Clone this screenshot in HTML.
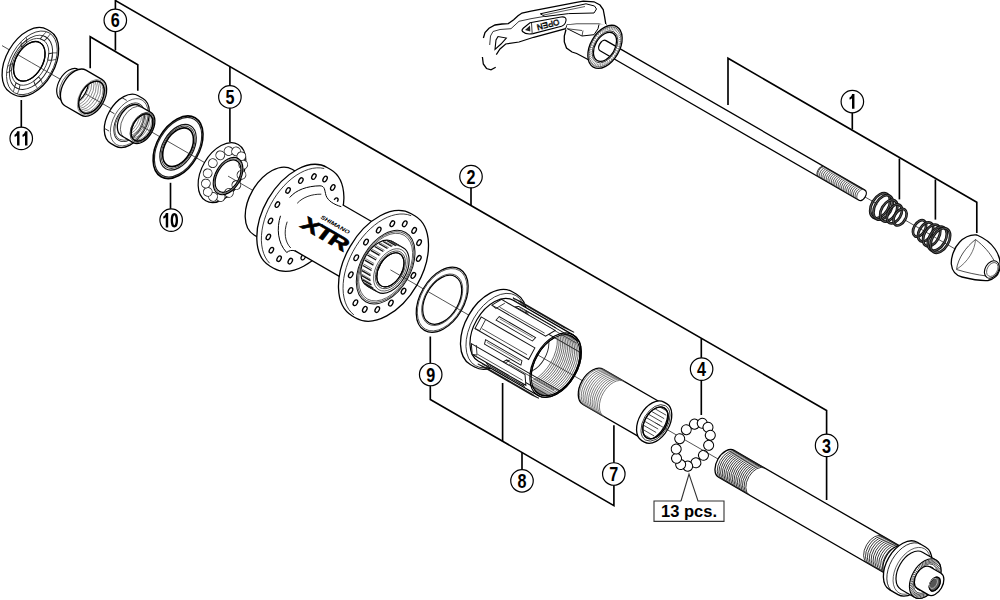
<!DOCTYPE html>
<html><head><meta charset="utf-8"><style>
html,body{margin:0;padding:0;background:#fff;width:1000px;height:600px;overflow:hidden;position:relative}
</style></head><body>
<svg width="1000" height="600" viewBox="0 0 1000 600" style="position:absolute;left:0;top:0"><rect width="1000" height="600" fill="#fff"/><g transform="translate(700,101.7) rotate(30)"><line x1="-100" y1="0" x2="205" y2="0" stroke="#222" stroke-width="0.7" /><line x1="235" y1="0" x2="300" y2="0" stroke="#222" stroke-width="0.7" /></g><path d="M495.7,67.3 L491,69.8 L486.5,68.5 L483.3,64 L482.4,57 L482.6,48 L483.4,38 L485,32.5 L489,28.2 L495,25 L502,24 L508.3,23.6 L513.7,19.8 L518,15.8 L522,13 L531,11.2 L575,2.6 L583.3,1.2 L594,1.8 L600,5 L603.2,9.5 L604.7,17.3 L606,25.3 L598.7,24.2 L576.7,24.2 L567.3,24.8 L565.7,28.7 L533.7,37.3 L519,42 L505.7,44 L500,49 L496.3,54.7Z" fill="#fff" stroke="none"/><path d="M495.7,67.3 L491,69.8 L486.5,68.5 L483.3,64 L482.4,57" fill="none" stroke="#000" stroke-width="1.3"/><path d="M483.4,38 L485,32.5 L489,28.2 L495,25 L502,24 L508.3,23.6 L513.7,19.8 L518,15.8 L522,13 L531,11.2 L575,2.6 L583.3,1.2 L594,1.8 L600,5 L603.2,9.5 L604.7,17.3 L606,25.3" fill="none" stroke="#000" stroke-width="1.3"/><path d="M606,25.3 L598.7,24.2 L576.7,24.2 L567.3,24.8 L565.7,28.7 L533.7,37.3 L519,42 L505.7,44 L500,49 L496.3,54.7" fill="none" stroke="#000" stroke-width="1.2"/><path d="M489.7,45 L490.5,36 L493,31.5 L500,29.5 L511,28.7 L519,21.3 L531,18.7 L565.7,12.7" fill="none" stroke="#222" stroke-width="0.9"/><path d="M495,49.3 L496,40 L498,36.5 L506.3,38 L501,44Z" fill="#fff" stroke="#000" stroke-width="1.1"/><path d="M540.3,13.8 L586,3.8 L594.5,6 L596.5,9 L594,13 L568.7,13.6 L545,16.5Z" fill="#fff" stroke="#000" stroke-width="1.0"/><line x1="543" y1="15.2" x2="585" y2="6.5" stroke="#333" stroke-width="0.8" /><path d="M522.5,31.5 C521.5,30.5 522,29.5 523.5,28 L530,22.8 L561,17 C565,16.4 566.5,18 566,20.5 C565.5,23.5 564,25.5 561.5,26.3 L533,33.6 C528,34.6 524,33 522.5,31.5Z" fill="#fff" stroke="#000" stroke-width="1.1"/><line x1="531.5" y1="23" x2="532.2" y2="33.6" stroke="#222" stroke-width="0.9" /><path d="M525,30 L530,25.5 L530.3,31.5Z" fill="#222"/><text font-family="Liberation Sans, sans-serif" font-size="8" fill="none" stroke="#000" stroke-width="0.6" transform="translate(558.5,19.3) rotate(166)">OPEN</text><path d="M566,30 L564.3,36 L564.3,42 L566.5,48 L572,52 L576.7,53.5 L591.3,61.3 L606,66 L606,24 L598.7,24.2 L576.7,24.2 L567.3,24.8Z" fill="#fff" stroke="none"/><path d="M566,29.5 L564.3,36 L564.3,42 L566.5,48 L572,52 L576.7,53.5 L591.3,61.3" fill="none" stroke="#000" stroke-width="1.3"/><path d="M567.3,28.7 L582,36 L594,34.7 L598,28.7 L599,24.5" fill="none" stroke="#000" stroke-width="1.0"/><line x1="582" y1="36" x2="583" y2="30.5" stroke="#222" stroke-width="0.8" /><line x1="567" y1="28.7" x2="582" y2="30.5" stroke="#222" stroke-width="0.8" /><g transform="translate(700,101.7) rotate(30)"><path d="M-112,-5.9L187,-5.9A3.66,5.9 0 0 1 187,5.9L-112,5.9A3.66,5.9 0 0 1 -112,-5.9Z" fill-rule="evenodd" fill="#fff" stroke="#000" stroke-width="1.3" /><path d="M141,5.9A3.66,5.9 0 0 1 141,-5.9" fill="none" stroke="#222" stroke-width="0.7" /><path d="M142.96,5.9A3.66,5.9 0 0 1 142.96,-5.9" fill="none" stroke="#222" stroke-width="0.7" /><path d="M144.91,5.9A3.66,5.9 0 0 1 144.91,-5.9" fill="none" stroke="#222" stroke-width="0.7" /><path d="M146.87,5.9A3.66,5.9 0 0 1 146.87,-5.9" fill="none" stroke="#222" stroke-width="0.7" /><path d="M148.83,5.9A3.66,5.9 0 0 1 148.83,-5.9" fill="none" stroke="#222" stroke-width="0.7" /><path d="M150.78,5.9A3.66,5.9 0 0 1 150.78,-5.9" fill="none" stroke="#222" stroke-width="0.7" /><path d="M152.74,5.9A3.66,5.9 0 0 1 152.74,-5.9" fill="none" stroke="#222" stroke-width="0.7" /><path d="M154.7,5.9A3.66,5.9 0 0 1 154.7,-5.9" fill="none" stroke="#222" stroke-width="0.7" /><path d="M156.65,5.9A3.66,5.9 0 0 1 156.65,-5.9" fill="none" stroke="#222" stroke-width="0.7" /><path d="M158.61,5.9A3.66,5.9 0 0 1 158.61,-5.9" fill="none" stroke="#222" stroke-width="0.7" /><path d="M160.57,5.9A3.66,5.9 0 0 1 160.57,-5.9" fill="none" stroke="#222" stroke-width="0.7" /><path d="M162.52,5.9A3.66,5.9 0 0 1 162.52,-5.9" fill="none" stroke="#222" stroke-width="0.7" /><path d="M164.48,5.9A3.66,5.9 0 0 1 164.48,-5.9" fill="none" stroke="#222" stroke-width="0.7" /><path d="M166.43,5.9A3.66,5.9 0 0 1 166.43,-5.9" fill="none" stroke="#222" stroke-width="0.7" /><path d="M168.39,5.9A3.66,5.9 0 0 1 168.39,-5.9" fill="none" stroke="#222" stroke-width="0.7" /><path d="M170.35,5.9A3.66,5.9 0 0 1 170.35,-5.9" fill="none" stroke="#222" stroke-width="0.7" /><path d="M172.3,5.9A3.66,5.9 0 0 1 172.3,-5.9" fill="none" stroke="#222" stroke-width="0.7" /><path d="M174.26,5.9A3.66,5.9 0 0 1 174.26,-5.9" fill="none" stroke="#222" stroke-width="0.7" /><path d="M176.22,5.9A3.66,5.9 0 0 1 176.22,-5.9" fill="none" stroke="#222" stroke-width="0.7" /><path d="M178.17,5.9A3.66,5.9 0 0 1 178.17,-5.9" fill="none" stroke="#222" stroke-width="0.7" /><path d="M180.13,5.9A3.66,5.9 0 0 1 180.13,-5.9" fill="none" stroke="#222" stroke-width="0.7" /><path d="M182.09,5.9A3.66,5.9 0 0 1 182.09,-5.9" fill="none" stroke="#222" stroke-width="0.7" /><path d="M184.04,5.9A3.66,5.9 0 0 1 184.04,-5.9" fill="none" stroke="#222" stroke-width="0.7" /><path d="M186,5.9A3.66,5.9 0 0 1 186,-5.9" fill="none" stroke="#222" stroke-width="0.7" /><path d="M140,5.9A3.66,5.9 0 0 1 140,-5.9" fill="none" stroke="#222" stroke-width="0.9" /><path d="M-109.7,-23.4A14.51,23.4 0 0 1 -109.7,23.4A14.51,23.4 0 0 1 -109.7,-23.4ZM-109.7,-15.8A9.8,15.8 0 0 1 -109.7,15.8A9.8,15.8 0 0 1 -109.7,-15.8Z" fill-rule="evenodd" fill="#fff" stroke="#000" stroke-width="1.3" /><line x1="-96.06" y1="0" x2="-98.23" y2="0" stroke="#444" stroke-width="0.55" /><line x1="-96.17" y1="2.76" x2="-98.32" y2="2.32" stroke="#444" stroke-width="0.55" /><line x1="-96.49" y1="5.47" x2="-98.59" y2="4.6" stroke="#444" stroke-width="0.55" /><line x1="-97.02" y1="8.1" x2="-99.04" y2="6.81" stroke="#444" stroke-width="0.55" /><line x1="-97.75" y1="10.6" x2="-99.65" y2="8.91" stroke="#444" stroke-width="0.55" /><line x1="-98.67" y1="12.93" x2="-100.42" y2="10.87" stroke="#444" stroke-width="0.55" /><line x1="-99.76" y1="15.06" x2="-101.34" y2="12.66" stroke="#444" stroke-width="0.55" /><line x1="-101.01" y1="16.95" x2="-102.39" y2="14.25" stroke="#444" stroke-width="0.55" /><line x1="-102.39" y1="18.58" x2="-103.55" y2="15.62" stroke="#444" stroke-width="0.55" /><line x1="-103.89" y1="19.91" x2="-104.82" y2="16.74" stroke="#444" stroke-width="0.55" /><line x1="-105.49" y1="20.92" x2="-106.16" y2="17.59" stroke="#444" stroke-width="0.55" /><line x1="-107.14" y1="21.61" x2="-107.55" y2="18.17" stroke="#444" stroke-width="0.55" /><line x1="-108.84" y1="21.96" x2="-108.98" y2="18.46" stroke="#444" stroke-width="0.55" /><line x1="-110.56" y1="21.96" x2="-110.42" y2="18.46" stroke="#444" stroke-width="0.55" /><line x1="-112.26" y1="21.61" x2="-111.85" y2="18.17" stroke="#444" stroke-width="0.55" /><line x1="-113.91" y1="20.92" x2="-113.24" y2="17.59" stroke="#444" stroke-width="0.55" /><line x1="-115.51" y1="19.91" x2="-114.58" y2="16.74" stroke="#444" stroke-width="0.55" /><line x1="-117.01" y1="18.58" x2="-115.85" y2="15.62" stroke="#444" stroke-width="0.55" /><line x1="-118.39" y1="16.95" x2="-117.01" y2="14.25" stroke="#444" stroke-width="0.55" /><line x1="-119.64" y1="15.06" x2="-118.06" y2="12.66" stroke="#444" stroke-width="0.55" /><line x1="-120.73" y1="12.93" x2="-118.98" y2="10.87" stroke="#444" stroke-width="0.55" /><line x1="-121.65" y1="10.6" x2="-119.75" y2="8.91" stroke="#444" stroke-width="0.55" /><line x1="-122.38" y1="8.1" x2="-120.36" y2="6.81" stroke="#444" stroke-width="0.55" /><line x1="-122.91" y1="5.47" x2="-120.81" y2="4.6" stroke="#444" stroke-width="0.55" /><line x1="-123.23" y1="2.76" x2="-121.08" y2="2.32" stroke="#444" stroke-width="0.55" /><line x1="-123.34" y1="0" x2="-121.17" y2="0" stroke="#444" stroke-width="0.55" /><line x1="-123.23" y1="-2.76" x2="-121.08" y2="-2.32" stroke="#444" stroke-width="0.55" /><line x1="-122.91" y1="-5.47" x2="-120.81" y2="-4.6" stroke="#444" stroke-width="0.55" /><line x1="-122.38" y1="-8.1" x2="-120.36" y2="-6.81" stroke="#444" stroke-width="0.55" /><line x1="-121.65" y1="-10.6" x2="-119.75" y2="-8.91" stroke="#444" stroke-width="0.55" /><line x1="-120.73" y1="-12.93" x2="-118.98" y2="-10.87" stroke="#444" stroke-width="0.55" /><line x1="-119.64" y1="-15.06" x2="-118.06" y2="-12.66" stroke="#444" stroke-width="0.55" /><line x1="-118.39" y1="-16.95" x2="-117.01" y2="-14.25" stroke="#444" stroke-width="0.55" /><line x1="-117.01" y1="-18.58" x2="-115.85" y2="-15.62" stroke="#444" stroke-width="0.55" /><line x1="-115.51" y1="-19.91" x2="-114.58" y2="-16.74" stroke="#444" stroke-width="0.55" /><line x1="-113.91" y1="-20.92" x2="-113.24" y2="-17.59" stroke="#444" stroke-width="0.55" /><line x1="-112.26" y1="-21.61" x2="-111.85" y2="-18.17" stroke="#444" stroke-width="0.55" /><line x1="-110.56" y1="-21.96" x2="-110.42" y2="-18.46" stroke="#444" stroke-width="0.55" /><line x1="-108.84" y1="-21.96" x2="-108.98" y2="-18.46" stroke="#444" stroke-width="0.55" /><line x1="-107.14" y1="-21.61" x2="-107.55" y2="-18.17" stroke="#444" stroke-width="0.55" /><line x1="-105.49" y1="-20.92" x2="-106.16" y2="-17.59" stroke="#444" stroke-width="0.55" /><line x1="-103.89" y1="-19.91" x2="-104.82" y2="-16.74" stroke="#444" stroke-width="0.55" /><line x1="-102.39" y1="-18.58" x2="-103.55" y2="-15.62" stroke="#444" stroke-width="0.55" /><line x1="-101.01" y1="-16.95" x2="-102.39" y2="-14.25" stroke="#444" stroke-width="0.55" /><line x1="-99.76" y1="-15.06" x2="-101.34" y2="-12.66" stroke="#444" stroke-width="0.55" /><line x1="-98.67" y1="-12.93" x2="-100.42" y2="-10.87" stroke="#444" stroke-width="0.55" /><line x1="-97.75" y1="-10.6" x2="-99.65" y2="-8.91" stroke="#444" stroke-width="0.55" /><line x1="-97.02" y1="-8.1" x2="-99.04" y2="-6.81" stroke="#444" stroke-width="0.55" /><line x1="-96.49" y1="-5.47" x2="-98.59" y2="-4.6" stroke="#444" stroke-width="0.55" /><line x1="-96.17" y1="-2.76" x2="-98.32" y2="-2.32" stroke="#444" stroke-width="0.55" /><ellipse cx="-109.7" cy="0" rx="13.52" ry="21.8" fill="none" stroke="#333" stroke-width="0.6" /><ellipse cx="-109.7" cy="0" rx="10.85" ry="17.5" fill="none" stroke="#222" stroke-width="0.8" /><ellipse cx="208" cy="0" rx="8.43" ry="13.6" fill="none" stroke="#111" stroke-width="2.7" /><ellipse cx="208" cy="0" rx="8.43" ry="13.6" fill="none" stroke="#999" stroke-width="0.45" /><ellipse cx="211.5" cy="0" rx="8.25" ry="13.3" fill="none" stroke="#111" stroke-width="2.7" /><ellipse cx="211.5" cy="0" rx="8.25" ry="13.3" fill="none" stroke="#999" stroke-width="0.45" /><ellipse cx="218" cy="0" rx="7.32" ry="11.8" fill="none" stroke="#111" stroke-width="2.7" /><ellipse cx="218" cy="0" rx="7.32" ry="11.8" fill="none" stroke="#999" stroke-width="0.45" /><ellipse cx="224.5" cy="0" rx="6.39" ry="10.3" fill="none" stroke="#111" stroke-width="2.7" /><ellipse cx="224.5" cy="0" rx="6.39" ry="10.3" fill="none" stroke="#999" stroke-width="0.45" /><ellipse cx="231" cy="0" rx="5.58" ry="9" fill="none" stroke="#111" stroke-width="2.7" /><ellipse cx="231" cy="0" rx="5.58" ry="9" fill="none" stroke="#999" stroke-width="0.45" /><ellipse cx="253.5" cy="0" rx="5.58" ry="9" fill="none" stroke="#111" stroke-width="2.7" /><ellipse cx="253.5" cy="0" rx="5.58" ry="9" fill="none" stroke="#999" stroke-width="0.45" /><ellipse cx="260.5" cy="0" rx="6.45" ry="10.4" fill="none" stroke="#111" stroke-width="2.7" /><ellipse cx="260.5" cy="0" rx="6.45" ry="10.4" fill="none" stroke="#999" stroke-width="0.45" /><ellipse cx="267.5" cy="0" rx="7.32" ry="11.8" fill="none" stroke="#111" stroke-width="2.7" /><ellipse cx="267.5" cy="0" rx="7.32" ry="11.8" fill="none" stroke="#999" stroke-width="0.45" /><ellipse cx="274" cy="0" rx="8.06" ry="13" fill="none" stroke="#111" stroke-width="2.7" /><ellipse cx="274" cy="0" rx="8.06" ry="13" fill="none" stroke="#999" stroke-width="0.45" /><ellipse cx="277.5" cy="0" rx="8.31" ry="13.4" fill="none" stroke="#111" stroke-width="2.7" /><ellipse cx="277.5" cy="0" rx="8.31" ry="13.4" fill="none" stroke="#999" stroke-width="0.45" /></g><path d="M976.9,235 C984,238 991,243 995,249 C999,255 1001,262 1000,268 C999,274 995,279 988,280.5 C980,281 970,279 962,277 C956,275.5 952,271 951.3,264 C951,257 954,248 959.5,242.3 C964,237.5 971,234.5 976.9,235Z" fill="#fff" stroke="#000" stroke-width="1.3"/><path d="M975.5,239.5 C966,247 958,258 956.5,269.5 C966,272.5 978,275 986.5,276" fill="none" stroke="#222" stroke-width="0.8"/><path d="M975.5,239.5 C984,246 990,253 994,260.5" fill="none" stroke="#222" stroke-width="0.8"/><path d="M975.5,239.5 C975,250 968,262 957,269" fill="none" stroke="#333" stroke-width="0.7"/><ellipse cx="991.8" cy="269.5" rx="6.6" ry="9.4" transform="rotate(30 991.8 269.5)" fill="#fff" stroke="#000" stroke-width="1.1"/><ellipse cx="992.3" cy="269.5" rx="5" ry="7.5" transform="rotate(30 992.3 269.5)" fill="none" stroke="#333" stroke-width="0.7"/><g transform="translate(2,45.6) rotate(30)"><line x1="0" y1="0" x2="34" y2="0" stroke="#222" stroke-width="0.7" /><path d="M31,-36.5L34.5,-36.5A22.63,36.5 0 0 1 34.5,36.5L31,36.5A22.63,36.5 0 0 1 31,-36.5ZM31.5,-21.5A13.33,21.5 0 0 1 31.5,21.5A13.33,21.5 0 0 1 31.5,-21.5Z" fill-rule="evenodd" fill="#fff" stroke="#000" stroke-width="1.3" /><ellipse cx="34.5" cy="0" rx="21.45" ry="34.6" fill="none" stroke="#222" stroke-width="0.8" /><ellipse cx="33.5" cy="0" rx="18.29" ry="29.5" fill="none" stroke="#222" stroke-width="0.9" /><ellipse cx="32.5" cy="0" rx="15.81" ry="25.5" fill="none" stroke="#333" stroke-width="0.8" /><polygon points="30.32,-29.05 29.75,-25.11 34.15,-25.36 35.41,-29.34" fill="#fff" stroke="#222" stroke-width="0.9"  stroke-linejoin="miter"/><line x1="30.32" y1="-29.05" x2="31.51" y2="-34.26" stroke="#333" stroke-width="0.7" /><line x1="35.41" y1="-29.34" x2="36" y2="-34.52" stroke="#333" stroke-width="0.7" /><polygon points="47.51,-18.96 44.61,-16.39 46.94,-10.37 50.21,-12" fill="#fff" stroke="#222" stroke-width="0.9"  stroke-linejoin="miter"/><line x1="47.51" y1="-18.96" x2="51.4" y2="-21.3" stroke="#333" stroke-width="0.7" /><line x1="50.21" y1="-12" x2="53.78" y2="-15.17" stroke="#333" stroke-width="0.7" /><polygon points="50.69,10.09 47.36,8.72 45.29,14.99 48.3,17.34" fill="#fff" stroke="#222" stroke-width="0.9"  stroke-linejoin="miter"/><line x1="50.69" y1="10.09" x2="54.39" y2="12.96" stroke="#333" stroke-width="0.7" /><line x1="48.3" y1="17.34" x2="52.28" y2="19.35" stroke="#333" stroke-width="0.7" /><polygon points="36.68,29.05 35.25,25.11 30.85,25.36 31.59,29.34" fill="#fff" stroke="#222" stroke-width="0.9"  stroke-linejoin="miter"/><line x1="36.68" y1="29.05" x2="37.49" y2="34.26" stroke="#333" stroke-width="0.7" /><line x1="31.59" y1="29.34" x2="33" y2="34.52" stroke="#333" stroke-width="0.7" /><polygon points="19.49,18.96 20.39,16.39 18.06,10.37 16.79,12" fill="#fff" stroke="#222" stroke-width="0.9"  stroke-linejoin="miter"/><line x1="19.49" y1="18.96" x2="17.6" y2="21.3" stroke="#333" stroke-width="0.7" /><line x1="16.79" y1="12" x2="15.22" y2="15.17" stroke="#333" stroke-width="0.7" /><polygon points="16.31,-10.09 17.64,-8.72 19.71,-14.99 18.7,-17.34" fill="#fff" stroke="#222" stroke-width="0.9"  stroke-linejoin="miter"/><line x1="16.31" y1="-10.09" x2="14.61" y2="-12.96" stroke="#333" stroke-width="0.7" /><line x1="18.7" y1="-17.34" x2="16.72" y2="-19.35" stroke="#333" stroke-width="0.7" /><ellipse cx="31.5" cy="0" rx="13.33" ry="21.5" fill="none" stroke="#000" stroke-width="1.2" /><line x1="34" y1="0" x2="103.3" y2="0" stroke="#222" stroke-width="0.7" /><path d="M78,-17.5L85,-17.5A10.85,17.5 0 0 1 85,17.5L78,17.5A10.85,17.5 0 0 1 78,-17.5Z" fill-rule="evenodd" fill="#fff" stroke="#000" stroke-width="1.2" /><path d="M81,17.5A10.85,17.5 0 0 1 81,-17.5" fill="none" stroke="#333" stroke-width="0.7" /><path d="M85,-20.7L103.3,-20.7A12.83,20.7 0 0 1 103.3,20.7L85,20.7A12.83,20.7 0 0 1 85,-20.7ZM103.3,-17.5A10.85,17.5 0 0 1 103.3,17.5A10.85,17.5 0 0 1 103.3,-17.5Z" fill-rule="evenodd" fill="#fff" stroke="#000" stroke-width="1.3" /><clipPath id="c6a"><path d="M103.3,-17.5A10.85,17.5 0 0 1 103.3,17.5A10.85,17.5 0 0 1 103.3,-17.5Z"/></clipPath><g clip-path="url(#c6a)"><path d="M101.8,-17.5A10.85,17.5 0 0 1 101.8,17.5" fill="none" stroke="#777" stroke-width="0.75" /><path d="M99.2,-17.5A10.85,17.5 0 0 1 99.2,17.5" fill="none" stroke="#777" stroke-width="0.75" /><path d="M96.6,-17.5A10.85,17.5 0 0 1 96.6,17.5" fill="none" stroke="#777" stroke-width="0.75" /><path d="M94,-17.5A10.85,17.5 0 0 1 94,17.5" fill="none" stroke="#777" stroke-width="0.75" /><path d="M91.4,-17.5A10.85,17.5 0 0 1 91.4,17.5" fill="none" stroke="#777" stroke-width="0.75" /><path d="M88.8,-17.5A10.85,17.5 0 0 1 88.8,17.5" fill="none" stroke="#777" stroke-width="0.75" /><path d="M86.2,-17.5A10.85,17.5 0 0 1 86.2,17.5" fill="none" stroke="#777" stroke-width="0.75" /></g><ellipse cx="103.3" cy="0" rx="10.85" ry="17.5" fill="none" stroke="#000" stroke-width="1.1" /><ellipse cx="103.3" cy="0" rx="11.9" ry="19.2" fill="none" stroke="#555" stroke-width="0.6" /><line x1="103.3" y1="0" x2="161.6" y2="0" stroke="#222" stroke-width="0.7" /><g transform="translate(0,2.8)"><path d="M143,-27.5L148.5,-27.5A17.05,27.5 0 0 1 148.5,27.5L143,27.5A17.05,27.5 0 0 1 143,-27.5Z" fill-rule="evenodd" fill="#fff" stroke="#000" stroke-width="1.3" /><line x1="129.94" y1="17.68" x2="135.44" y2="17.68" stroke="#222" stroke-width="0.8" /><line x1="125.95" y1="0" x2="131.45" y2="0" stroke="#222" stroke-width="0.8" /><line x1="129.94" y1="-17.68" x2="135.44" y2="-17.68" stroke="#222" stroke-width="0.8" /><ellipse cx="148.5" cy="0" rx="15.93" ry="25.7" fill="none" stroke="#333" stroke-width="0.7" /><ellipse cx="148.5" cy="0" rx="13.02" ry="21" fill="none" stroke="#222" stroke-width="0.9" /><ellipse cx="148.5" cy="0" rx="12.15" ry="19.6" fill="none" stroke="#333" stroke-width="0.7" /></g><g transform="translate(0,0.9)"><path d="M148.5,-17.5L162.2,-17.5A10.85,17.5 0 0 1 162.2,17.5L148.5,17.5A10.85,17.5 0 0 1 148.5,-17.5ZM162.2,-14.8A9.18,14.8 0 0 1 162.2,14.8A9.18,14.8 0 0 1 162.2,-14.8Z" fill-rule="evenodd" fill="#fff" stroke="#000" stroke-width="1.3" /><path d="M152,17.5A10.85,17.5 0 0 1 152,-17.5" fill="none" stroke="#333" stroke-width="0.7" /><clipPath id="c6b"><path d="M162.2,-14.8A9.18,14.8 0 0 1 162.2,14.8A9.18,14.8 0 0 1 162.2,-14.8Z"/></clipPath><g clip-path="url(#c6b)"><path d="M160.7,-14.8A9.18,14.8 0 0 1 160.7,14.8" fill="none" stroke="#777" stroke-width="0.75" /><path d="M158.4,-14.8A9.18,14.8 0 0 1 158.4,14.8" fill="none" stroke="#777" stroke-width="0.75" /><path d="M156.1,-14.8A9.18,14.8 0 0 1 156.1,14.8" fill="none" stroke="#777" stroke-width="0.75" /><path d="M153.8,-14.8A9.18,14.8 0 0 1 153.8,14.8" fill="none" stroke="#777" stroke-width="0.75" /><path d="M151.5,-14.8A9.18,14.8 0 0 1 151.5,14.8" fill="none" stroke="#777" stroke-width="0.75" /><path d="M149.2,-14.8A9.18,14.8 0 0 1 149.2,14.8" fill="none" stroke="#777" stroke-width="0.75" /><path d="M146.9,-14.8A9.18,14.8 0 0 1 146.9,14.8" fill="none" stroke="#777" stroke-width="0.75" /></g><ellipse cx="162.2" cy="0" rx="9.18" ry="14.8" fill="none" stroke="#000" stroke-width="1.1" /><ellipse cx="162.2" cy="0" rx="10.11" ry="16.3" fill="none" stroke="#222" stroke-width="0.8" /></g><line x1="161.6" y1="0" x2="203.3" y2="0" stroke="#222" stroke-width="0.7" /><path d="M203.3,-34A21.08,34 0 0 1 203.3,34A21.08,34 0 0 1 203.3,-34ZM203.3,-21A13.02,21 0 0 1 203.3,21A13.02,21 0 0 1 203.3,-21Z" fill-rule="evenodd" fill="#fff" stroke="#000" stroke-width="1.6" /><ellipse cx="203.3" cy="0" rx="20.03" ry="32.3" fill="none" stroke="#222" stroke-width="1.2" /><ellipse cx="203.3" cy="0" rx="15.38" ry="24.8" fill="none" stroke="#111" stroke-width="1.2" /><ellipse cx="203.3" cy="0" rx="14.26" ry="23" fill="none" stroke="#333" stroke-width="0.9" /><line x1="203.3" y1="0" x2="261" y2="0" stroke="#222" stroke-width="0.7" /><ellipse cx="254" cy="0" rx="20.15" ry="32.5" fill="#fff" stroke="#000" stroke-width="1.2" /><circle cx="272.66" cy="3.55" r="4.4" fill="#fff" stroke="#222" stroke-width="0.9"/><circle cx="270.15" cy="14.15" r="4.4" fill="#fff" stroke="#222" stroke-width="0.9"/><circle cx="265.04" cy="21.96" r="4.4" fill="#fff" stroke="#222" stroke-width="0.9"/><circle cx="258.34" cy="25.41" r="4.4" fill="#fff" stroke="#222" stroke-width="0.9"/><circle cx="251.37" cy="23.83" r="4.4" fill="#fff" stroke="#222" stroke-width="0.9"/><circle cx="245.52" cy="17.53" r="4.4" fill="#fff" stroke="#222" stroke-width="0.9"/><circle cx="241.94" cy="7.76" r="4.4" fill="#fff" stroke="#222" stroke-width="0.9"/><circle cx="241.34" cy="-3.55" r="4.4" fill="#fff" stroke="#222" stroke-width="0.9"/><circle cx="243.85" cy="-14.15" r="4.4" fill="#fff" stroke="#222" stroke-width="0.9"/><circle cx="248.96" cy="-21.96" r="4.4" fill="#fff" stroke="#222" stroke-width="0.9"/><circle cx="255.66" cy="-25.41" r="4.4" fill="#fff" stroke="#222" stroke-width="0.9"/><circle cx="262.63" cy="-23.83" r="4.4" fill="#fff" stroke="#222" stroke-width="0.9"/><circle cx="268.48" cy="-17.53" r="4.4" fill="#fff" stroke="#222" stroke-width="0.9"/><circle cx="272.06" cy="-7.76" r="4.4" fill="#fff" stroke="#222" stroke-width="0.9"/><path d="M261,-20.2A12.52,20.2 0 0 1 261,20.2A12.52,20.2 0 0 1 261,-20.2ZM261,-17.6A10.91,17.6 0 0 1 261,17.6A10.91,17.6 0 0 1 261,-17.6Z" fill-rule="evenodd" fill="#fff" stroke="#000" stroke-width="1.2" /><ellipse cx="261" cy="0" rx="11.78" ry="19" fill="none" stroke="#333" stroke-width="0.6" /><line x1="261" y1="0" x2="448.5" y2="0" stroke="#222" stroke-width="0.7" /><path d="M313,-38L342,-38A23.56,38 0 0 1 342,38L313,38A23.56,38 0 0 1 313,-38Z" fill-rule="evenodd" fill="#fff" stroke="#000" stroke-width="1.3" /><path d="M342.5,-57L346.5,-57A35.34,57 0 0 1 346.5,57L342.5,57A35.34,57 0 0 1 342.5,-57Z" fill-rule="evenodd" fill="#fff" stroke="#000" stroke-width="1.3" /><path d="M340.52,54.66 L337.06,53.37 L333.69,51.51 L330.46,49.1 L327.41,46.17 L324.55,42.75 L321.93,38.86 L319.58,34.56 L317.51,29.9 L315.75,24.91 L314.32,19.65 L313.23,14.19 L312.5,8.58 L312.14,2.87 L312.14,-2.87 L312.5,-8.58 L313.23,-14.19 L314.32,-19.65 L315.75,-24.91 L317.51,-29.9 L319.58,-34.56 L321.93,-38.86 L324.55,-42.75 L327.41,-46.17 L330.46,-49.1 L333.69,-51.51 L337.06,-53.37 L340.52,-54.66" fill="none" stroke="#222" stroke-width="0.8" /><ellipse cx="375.02" cy="0" rx="1.86" ry="3" fill="#fff" stroke="#000" stroke-width="1.3" /><ellipse cx="372.85" cy="17.6" rx="1.86" ry="3" fill="#fff" stroke="#000" stroke-width="1.3" /><ellipse cx="366.67" cy="32.53" rx="1.86" ry="3" fill="#fff" stroke="#000" stroke-width="1.3" /><ellipse cx="357.41" cy="42.5" rx="1.86" ry="3" fill="#fff" stroke="#000" stroke-width="1.3" /><ellipse cx="346.5" cy="46" rx="1.86" ry="3" fill="#fff" stroke="#000" stroke-width="1.3" /><ellipse cx="335.59" cy="42.5" rx="1.86" ry="3" fill="#fff" stroke="#000" stroke-width="1.3" /><ellipse cx="326.33" cy="32.53" rx="1.86" ry="3" fill="#fff" stroke="#000" stroke-width="1.3" /><ellipse cx="320.15" cy="17.6" rx="1.86" ry="3" fill="#fff" stroke="#000" stroke-width="1.3" /><ellipse cx="317.98" cy="0" rx="1.86" ry="3" fill="#fff" stroke="#000" stroke-width="1.3" /><ellipse cx="320.15" cy="-17.6" rx="1.86" ry="3" fill="#fff" stroke="#000" stroke-width="1.3" /><ellipse cx="326.33" cy="-32.53" rx="1.86" ry="3" fill="#fff" stroke="#000" stroke-width="1.3" /><ellipse cx="335.59" cy="-42.5" rx="1.86" ry="3" fill="#fff" stroke="#000" stroke-width="1.3" /><ellipse cx="346.5" cy="-46" rx="1.86" ry="3" fill="#fff" stroke="#000" stroke-width="1.3" /><ellipse cx="357.41" cy="-42.5" rx="1.86" ry="3" fill="#fff" stroke="#000" stroke-width="1.3" /><ellipse cx="366.67" cy="-32.53" rx="1.86" ry="3" fill="#fff" stroke="#000" stroke-width="1.3" /><ellipse cx="372.85" cy="-17.6" rx="1.86" ry="3" fill="#fff" stroke="#000" stroke-width="1.3" /><path d="M352,-32.5 L440,-32.5 L440,31.2 L352,31.2 Z" fill="#fff" stroke="none"/><path d="M374.5,-32.5 L440,-32.5" stroke="#000" stroke-width="1.3"/><path d="M356,31.2 L440,31.2" stroke="#000" stroke-width="1.3"/><g transform="rotate(-30) translate(-2,-45.6)"><path d="M289.7,197.5 C296,190 307,186 320,185.8 C325,186 324.5,190 326,195.5 C328,201 334,204.5 341.3,206.7" fill="none" stroke="#000" stroke-width="1.0"/><path d="M297.2,203.3 C303,197 312,194 321.3,194.2" fill="none" stroke="#111" stroke-width="0.9"/><path d="M280.5,215.8 C276.5,228 277.5,243 286.7,252.5 C289,250.5 292,249.8 295.5,251" fill="none" stroke="#000" stroke-width="1.0"/><path d="M287.2,221.7 C283.5,232 285,242.5 290.8,248" fill="none" stroke="#111" stroke-width="0.9"/><text font-family="Liberation Sans, sans-serif" font-size="19" font-weight="bold" letter-spacing="-1.2" stroke="#000" stroke-width="0.6" transform="translate(299,226.5) rotate(30) skewX(-8) scale(1.45,1)">XTR</text><text font-family="Liberation Sans, sans-serif" font-size="5.5" font-weight="bold" transform="translate(320,218) rotate(30) skewX(-12) scale(1.25,1)">SHIMANO</text></g><path d="M438.5,-59L442.5,-59A36.58,59 0 0 1 442.5,59L438.5,59A36.58,59 0 0 1 438.5,-59Z" fill-rule="evenodd" fill="#fff" stroke="#000" stroke-width="1.3" /><path d="M439.39,57.28 L435.78,56.47 L432.24,55.07 L428.81,53.09 L425.52,50.56 L422.4,47.49 L419.5,43.94 L416.84,39.92 L414.45,35.48 L412.35,30.68 L410.56,25.55 L409.11,20.15 L408.01,14.55 L407.27,8.79 L406.9,2.94 L406.9,-2.94 L407.27,-8.79 L408.01,-14.55 L409.11,-20.15 L410.56,-25.55 L412.35,-30.68 L414.45,-35.48 L416.84,-39.92 L419.5,-43.94 L422.4,-47.49 L425.52,-50.56 L428.81,-53.09 L432.24,-55.07 L435.78,-56.47 L439.39,-57.28" fill="none" stroke="#222" stroke-width="0.8" /><ellipse cx="443" cy="0" rx="24.8" ry="40" fill="none" stroke="#111" stroke-width="1" /><ellipse cx="443" cy="0" rx="23.87" ry="38.5" fill="none" stroke="#222" stroke-width="0.7" /><ellipse cx="471.16" cy="-6.61" rx="1.92" ry="3.1" fill="#fff" stroke="#000" stroke-width="1.3" /><ellipse cx="470.51" cy="11.89" rx="1.92" ry="3.1" fill="#fff" stroke="#000" stroke-width="1.3" /><ellipse cx="465.52" cy="28.59" rx="1.92" ry="3.1" fill="#fff" stroke="#000" stroke-width="1.3" /><ellipse cx="456.95" cy="40.93" rx="1.92" ry="3.1" fill="#fff" stroke="#000" stroke-width="1.3" /><ellipse cx="446.1" cy="47.04" rx="1.92" ry="3.1" fill="#fff" stroke="#000" stroke-width="1.3" /><ellipse cx="434.63" cy="45.99" rx="1.92" ry="3.1" fill="#fff" stroke="#000" stroke-width="1.3" /><ellipse cx="424.28" cy="37.94" rx="1.92" ry="3.1" fill="#fff" stroke="#000" stroke-width="1.3" /><ellipse cx="416.63" cy="24.11" rx="1.92" ry="3.1" fill="#fff" stroke="#000" stroke-width="1.3" /><ellipse cx="412.84" cy="6.61" rx="1.92" ry="3.1" fill="#fff" stroke="#000" stroke-width="1.3" /><ellipse cx="413.49" cy="-11.89" rx="1.92" ry="3.1" fill="#fff" stroke="#000" stroke-width="1.3" /><ellipse cx="418.48" cy="-28.59" rx="1.92" ry="3.1" fill="#fff" stroke="#000" stroke-width="1.3" /><ellipse cx="427.05" cy="-40.93" rx="1.92" ry="3.1" fill="#fff" stroke="#000" stroke-width="1.3" /><ellipse cx="437.9" cy="-47.04" rx="1.92" ry="3.1" fill="#fff" stroke="#000" stroke-width="1.3" /><ellipse cx="449.37" cy="-45.99" rx="1.92" ry="3.1" fill="#fff" stroke="#000" stroke-width="1.3" /><ellipse cx="459.72" cy="-37.94" rx="1.92" ry="3.1" fill="#fff" stroke="#000" stroke-width="1.3" /><ellipse cx="467.37" cy="-24.11" rx="1.92" ry="3.1" fill="#fff" stroke="#000" stroke-width="1.3" /><ellipse cx="443" cy="0" rx="22.82" ry="36.8" fill="none" stroke="#333" stroke-width="0.7" /><path d="M436,-25.5L448.5,-25.5A15.81,25.5 0 0 1 448.5,25.5L436,25.5A15.81,25.5 0 0 1 436,-25.5ZM448.5,-18.5A11.47,18.5 0 0 1 448.5,18.5A11.47,18.5 0 0 1 448.5,-18.5Z" fill-rule="evenodd" fill="#fff" stroke="#000" stroke-width="1.1" /><line x1="436.45" y1="25.48" x2="446.45" y2="25.48" stroke="#111" stroke-width="1.3" /><line x1="435.35" y1="25.36" x2="445.35" y2="25.36" stroke="#444" stroke-width="0.6" /><line x1="432.91" y1="24.63" x2="442.91" y2="24.63" stroke="#111" stroke-width="1.3" /><line x1="431.85" y1="24.11" x2="441.85" y2="24.11" stroke="#444" stroke-width="0.6" /><line x1="429.58" y1="22.52" x2="439.58" y2="22.52" stroke="#111" stroke-width="1.3" /><line x1="428.62" y1="21.63" x2="438.62" y2="21.63" stroke="#444" stroke-width="0.6" /><line x1="426.63" y1="19.25" x2="436.63" y2="19.25" stroke="#111" stroke-width="1.3" /><line x1="425.82" y1="18.03" x2="435.82" y2="18.03" stroke="#444" stroke-width="0.6" /><line x1="424.21" y1="14.99" x2="434.21" y2="14.99" stroke="#111" stroke-width="1.3" /><line x1="423.59" y1="13.51" x2="433.59" y2="13.51" stroke="#444" stroke-width="0.6" /><line x1="422.45" y1="9.96" x2="432.45" y2="9.96" stroke="#111" stroke-width="1.3" /><line x1="422.05" y1="8.3" x2="432.05" y2="8.3" stroke="#444" stroke-width="0.6" /><line x1="421.43" y1="4.43" x2="431.43" y2="4.43" stroke="#111" stroke-width="1.3" /><line x1="421.28" y1="2.67" x2="431.28" y2="2.67" stroke="#444" stroke-width="0.6" /><line x1="421.21" y1="-1.33" x2="431.21" y2="-1.33" stroke="#111" stroke-width="1.3" /><line x1="421.31" y1="-3.11" x2="431.31" y2="-3.11" stroke="#444" stroke-width="0.6" /><line x1="421.8" y1="-7.03" x2="431.8" y2="-7.03" stroke="#111" stroke-width="1.3" /><line x1="422.14" y1="-8.72" x2="432.14" y2="-8.72" stroke="#444" stroke-width="0.6" /><line x1="423.17" y1="-12.36" x2="433.17" y2="-12.36" stroke="#111" stroke-width="1.3" /><line x1="423.74" y1="-13.89" x2="433.74" y2="-13.89" stroke="#444" stroke-width="0.6" /><line x1="425.25" y1="-17.06" x2="435.25" y2="-17.06" stroke="#111" stroke-width="1.3" /><line x1="426.02" y1="-18.34" x2="436.02" y2="-18.34" stroke="#444" stroke-width="0.6" /><line x1="427.93" y1="-20.89" x2="437.93" y2="-20.89" stroke="#111" stroke-width="1.3" /><line x1="428.86" y1="-21.86" x2="438.86" y2="-21.86" stroke="#444" stroke-width="0.6" /><line x1="431.08" y1="-23.64" x2="441.08" y2="-23.64" stroke="#111" stroke-width="1.3" /><line x1="432.11" y1="-24.25" x2="442.11" y2="-24.25" stroke="#444" stroke-width="0.6" /><line x1="434.53" y1="-25.19" x2="444.53" y2="-25.19" stroke="#111" stroke-width="1.3" /><line x1="435.62" y1="-25.4" x2="445.62" y2="-25.4" stroke="#444" stroke-width="0.6" /><ellipse cx="448.5" cy="0" rx="14.26" ry="23" fill="none" stroke="#333" stroke-width="0.7" /><ellipse cx="448.5" cy="0" rx="12.71" ry="20.5" fill="none" stroke="#333" stroke-width="0.8" /><ellipse cx="448.5" cy="0" rx="11.47" ry="18.5" fill="none" stroke="#000" stroke-width="1.1" /><line x1="448.5" y1="0" x2="508.3" y2="0" stroke="#222" stroke-width="0.7" /><path d="M508.3,-35.4A21.95,35.4 0 0 1 508.3,35.4A21.95,35.4 0 0 1 508.3,-35.4ZM508.3,-26.6A16.49,26.6 0 0 1 508.3,26.6A16.49,26.6 0 0 1 508.3,-26.6Z" fill-rule="evenodd" fill="#fff" stroke="#000" stroke-width="1.25" /><ellipse cx="508.3" cy="0" rx="21.02" ry="33.9" fill="none" stroke="#222" stroke-width="0.7" /><ellipse cx="508.3" cy="0" rx="17.36" ry="28" fill="none" stroke="#222" stroke-width="0.7" /><line x1="508.3" y1="0" x2="639.2" y2="0" stroke="#222" stroke-width="0.7" /><path d="M565,-42L570,-42A26.04,42 0 0 1 570,42L565,42A26.04,42 0 0 1 565,-42Z" fill-rule="evenodd" fill="#fff" stroke="#000" stroke-width="1.3" /><ellipse cx="570" cy="0" rx="25.11" ry="40.5" fill="none" stroke="#222" stroke-width="0.8" /><path d="M570,-35L639.2,-35A21.7,35 0 0 1 639.2,35L570,35A21.7,35 0 0 1 570,-35ZM639.2,-33.2A20.58,33.2 0 0 1 639.2,33.2A20.58,33.2 0 0 1 639.2,-33.2Z" fill-rule="evenodd" fill="#fff" stroke="#000" stroke-width="1.2" /><polygon points="565.09,-9.35 607.09,-9.35 608.1,-13.96 566.1,-13.96" fill="#fff" stroke="#111" stroke-width="0.9"  stroke-linejoin="miter"/><line x1="567.67" y1="-12.26" x2="605.67" y2="-12.26" stroke="#444" stroke-width="0.6" /><polygon points="575.31,-30.46 617.31,-30.46 620.05,-32.56 578.05,-32.56" fill="#fff" stroke="#111" stroke-width="0.9"  stroke-linejoin="miter"/><line x1="579" y1="-31.85" x2="617" y2="-31.85" stroke="#444" stroke-width="0.6" /><polygon points="580.2,33.73 622.2,33.73 619.35,32.1 577.35,32.1" fill="#fff" stroke="#111" stroke-width="0.9"  stroke-linejoin="miter"/><line x1="580.4" y1="32.78" x2="618.4" y2="32.78" stroke="#444" stroke-width="0.6" /><polygon points="567.11,17.23 609.11,17.23 607.81,12.83 565.81,12.83" fill="#fff" stroke="#111" stroke-width="0.9"  stroke-linejoin="miter"/><line x1="568.25" y1="14.51" x2="606.25" y2="14.51" stroke="#444" stroke-width="0.6" /><polygon points="593.98,20.14 655.98,20.14 650.5,29.94 588.5,29.94" fill="#fff" stroke="#111" stroke-width="1"  stroke-linejoin="miter"/><line x1="598.32" y1="22.27" x2="650.32" y2="22.27" stroke="#222" stroke-width="0.7" /><polyline points="593.98,20.14 596.93,19.08 591.74,28.37" fill="none" stroke="#222" stroke-width="0.8"  stroke-linejoin="miter"/><polygon points="586.48,-32.23 648.48,-32.23 654.57,-23.4 592.57,-23.4" fill="#fff" stroke="#111" stroke-width="1"  stroke-linejoin="miter"/><line x1="593.81" y1="-29.55" x2="645.81" y2="-29.55" stroke="#222" stroke-width="0.7" /><polyline points="586.48,-32.23 589.83,-30.53 595.59,-22.16" fill="none" stroke="#222" stroke-width="0.8"  stroke-linejoin="miter"/><polygon points="579.3,37.03 641.3,37.03 633.13,37.72 571.13,37.72" fill="#fff" stroke="#111" stroke-width="1"  stroke-linejoin="miter"/><line x1="583.19" y1="36.64" x2="635.19" y2="36.64" stroke="#222" stroke-width="0.7" /><polyline points="579.3,37.03 583.02,35.08 575.28,35.73" fill="none" stroke="#222" stroke-width="0.8"  stroke-linejoin="miter"/><polygon points="568.7,-37.03 630.7,-37.03 638.87,-37.72 576.87,-37.72" fill="#fff" stroke="#111" stroke-width="1"  stroke-linejoin="miter"/><line x1="576.81" y1="-36.64" x2="628.81" y2="-36.64" stroke="#222" stroke-width="0.7" /><polyline points="568.7,-37.03 572.98,-35.08 580.72,-35.73" fill="none" stroke="#222" stroke-width="0.8"  stroke-linejoin="miter"/><polygon points="561.52,32.23 623.52,32.23 617.43,23.4 555.43,23.4" fill="#fff" stroke="#111" stroke-width="1"  stroke-linejoin="miter"/><line x1="566.19" y1="29.55" x2="618.19" y2="29.55" stroke="#222" stroke-width="0.7" /><polyline points="561.52,32.23 566.17,30.53 560.41,22.16" fill="none" stroke="#222" stroke-width="0.8"  stroke-linejoin="miter"/><polygon points="554.02,-20.14 616.02,-20.14 621.5,-29.94 559.5,-29.94" fill="#fff" stroke="#111" stroke-width="1"  stroke-linejoin="miter"/><line x1="561.68" y1="-22.27" x2="613.68" y2="-22.27" stroke="#222" stroke-width="0.7" /><polyline points="554.02,-20.14 559.07,-19.08 564.26,-28.37" fill="none" stroke="#222" stroke-width="0.8"  stroke-linejoin="miter"/><polygon points="551.04,8.55 613.04,8.55 612.62,-4.63 550.62,-4.63" fill="#fff" stroke="#111" stroke-width="1"  stroke-linejoin="miter"/><line x1="557.28" y1="5.15" x2="609.28" y2="5.15" stroke="#222" stroke-width="0.7" /><polyline points="551.04,8.55 556.25,8.1 555.85,-4.39" fill="none" stroke="#222" stroke-width="0.8"  stroke-linejoin="miter"/><ellipse cx="639.2" cy="0" rx="21.7" ry="35" fill="none" stroke="#000" stroke-width="1.2" /><clipPath id="c8"><path d="M639.2,-33.2A20.58,33.2 0 0 1 639.2,33.2A20.58,33.2 0 0 1 639.2,-33.2Z"/></clipPath><g clip-path="url(#c8)"><path d="M637.2,-33.2A20.58,33.2 0 0 1 637.2,33.2" fill="none" stroke="#444" stroke-width="0.7" /><path d="M635.2,-33.2A20.58,33.2 0 0 1 635.2,33.2" fill="none" stroke="#444" stroke-width="0.7" /><path d="M633.2,-33.2A20.58,33.2 0 0 1 633.2,33.2" fill="none" stroke="#444" stroke-width="0.7" /><path d="M631.2,-33.2A20.58,33.2 0 0 1 631.2,33.2" fill="none" stroke="#444" stroke-width="0.7" /><path d="M629.2,-33.2A20.58,33.2 0 0 1 629.2,33.2" fill="none" stroke="#444" stroke-width="0.7" /><path d="M627.2,-33.2A20.58,33.2 0 0 1 627.2,33.2" fill="none" stroke="#444" stroke-width="0.7" /><path d="M625.2,-33.2A20.58,33.2 0 0 1 625.2,33.2" fill="none" stroke="#444" stroke-width="0.7" /><path d="M623.2,-33.2A20.58,33.2 0 0 1 623.2,33.2" fill="none" stroke="#444" stroke-width="0.7" /><path d="M621.2,-33.2A20.58,33.2 0 0 1 621.2,33.2" fill="none" stroke="#444" stroke-width="0.7" /><path d="M619.2,-33.2A20.58,33.2 0 0 1 619.2,33.2" fill="none" stroke="#444" stroke-width="0.7" /><path d="M617.2,-33.2A20.58,33.2 0 0 1 617.2,33.2" fill="none" stroke="#444" stroke-width="0.7" /><path d="M615.2,-33.2A20.58,33.2 0 0 1 615.2,33.2" fill="none" stroke="#444" stroke-width="0.7" /><path d="M613.2,-33.2A20.58,33.2 0 0 1 613.2,33.2" fill="none" stroke="#444" stroke-width="0.7" /><ellipse cx="612" cy="0" rx="14.26" ry="23" fill="none" stroke="#222" stroke-width="0.9" /></g><ellipse cx="639.2" cy="0" rx="20.58" ry="33.2" fill="none" stroke="#000" stroke-width="1" /><line x1="639.2" y1="0" x2="754.6" y2="0" stroke="#222" stroke-width="0.7" /><path d="M682.6,-20.3L751.5,-20.3A12.59,20.3 0 0 1 751.5,20.3L682.6,20.3A12.59,20.3 0 0 1 682.6,-20.3Z" fill-rule="evenodd" fill="#fff" stroke="#000" stroke-width="1.3" /><path d="M684,20.3A12.59,20.3 0 0 1 684,-20.3" fill="none" stroke="#555" stroke-width="0.7" /><path d="M686.09,20.3A12.59,20.3 0 0 1 686.09,-20.3" fill="none" stroke="#555" stroke-width="0.7" /><path d="M688.18,20.3A12.59,20.3 0 0 1 688.18,-20.3" fill="none" stroke="#555" stroke-width="0.7" /><path d="M690.27,20.3A12.59,20.3 0 0 1 690.27,-20.3" fill="none" stroke="#555" stroke-width="0.7" /><path d="M692.36,20.3A12.59,20.3 0 0 1 692.36,-20.3" fill="none" stroke="#555" stroke-width="0.7" /><path d="M694.45,20.3A12.59,20.3 0 0 1 694.45,-20.3" fill="none" stroke="#555" stroke-width="0.7" /><path d="M696.55,20.3A12.59,20.3 0 0 1 696.55,-20.3" fill="none" stroke="#555" stroke-width="0.7" /><path d="M698.64,20.3A12.59,20.3 0 0 1 698.64,-20.3" fill="none" stroke="#555" stroke-width="0.7" /><path d="M700.73,20.3A12.59,20.3 0 0 1 700.73,-20.3" fill="none" stroke="#555" stroke-width="0.7" /><path d="M702.82,20.3A12.59,20.3 0 0 1 702.82,-20.3" fill="none" stroke="#555" stroke-width="0.7" /><path d="M704.91,20.3A12.59,20.3 0 0 1 704.91,-20.3" fill="none" stroke="#555" stroke-width="0.7" /><path d="M707,20.3A12.59,20.3 0 0 1 707,-20.3" fill="none" stroke="#555" stroke-width="0.7" /><path d="M751.5,-22.2L754.6,-22.2A13.76,22.2 0 0 1 754.6,22.2L751.5,22.2A13.76,22.2 0 0 1 751.5,-22.2ZM754.6,-17.3A10.73,17.3 0 0 1 754.6,17.3A10.73,17.3 0 0 1 754.6,-17.3Z" fill-rule="evenodd" fill="#fff" stroke="#000" stroke-width="1.3" /><ellipse cx="754.6" cy="0" rx="12.28" ry="19.8" fill="none" stroke="#222" stroke-width="0.8" /><clipPath id="c7"><path d="M754.6,-17.3A10.73,17.3 0 0 1 754.6,17.3A10.73,17.3 0 0 1 754.6,-17.3Z"/></clipPath><g clip-path="url(#c7)"><line x1="720" y1="-16" x2="760" y2="-16" stroke="#333" stroke-width="0.8" /><line x1="720" y1="-12" x2="760" y2="-12" stroke="#333" stroke-width="0.8" /><line x1="720" y1="-8" x2="760" y2="-8" stroke="#333" stroke-width="0.8" /><line x1="720" y1="-4" x2="760" y2="-4" stroke="#333" stroke-width="0.8" /><line x1="720" y1="0" x2="760" y2="0" stroke="#333" stroke-width="0.8" /><line x1="720" y1="4" x2="760" y2="4" stroke="#333" stroke-width="0.8" /><line x1="720" y1="8" x2="760" y2="8" stroke="#333" stroke-width="0.8" /><line x1="720" y1="12" x2="760" y2="12" stroke="#333" stroke-width="0.8" /><line x1="720" y1="16" x2="760" y2="16" stroke="#333" stroke-width="0.8" /></g><ellipse cx="754.6" cy="0" rx="10.73" ry="17.3" fill="none" stroke="#000" stroke-width="1.1" /><line x1="754.6" y1="0" x2="798" y2="0" stroke="#222" stroke-width="0.7" /><circle cx="812.35" cy="4.08" r="5.0" fill="#fff" stroke="#000" stroke-width="1.0"/><circle cx="809.53" cy="14.37" r="5.0" fill="#fff" stroke="#000" stroke-width="1.0"/><circle cx="804.07" cy="21.36" r="5.0" fill="#fff" stroke="#000" stroke-width="1.0"/><circle cx="797.22" cy="23.47" r="5.0" fill="#fff" stroke="#000" stroke-width="1.0"/><circle cx="790.55" cy="20.19" r="5.0" fill="#fff" stroke="#000" stroke-width="1.0"/><circle cx="785.58" cy="12.29" r="5.0" fill="#fff" stroke="#000" stroke-width="1.0"/><circle cx="783.46" cy="1.58" r="5.0" fill="#fff" stroke="#000" stroke-width="1.0"/><circle cx="784.67" cy="-9.5" r="5.0" fill="#fff" stroke="#000" stroke-width="1.0"/><circle cx="788.94" cy="-18.4" r="5.0" fill="#fff" stroke="#000" stroke-width="1.0"/><circle cx="795.28" cy="-23.09" r="5.0" fill="#fff" stroke="#000" stroke-width="1.0"/><circle cx="802.24" cy="-22.48" r="5.0" fill="#fff" stroke="#000" stroke-width="1.0"/><circle cx="808.23" cy="-16.73" r="5.0" fill="#fff" stroke="#000" stroke-width="1.0"/><circle cx="811.88" cy="-7.14" r="5.0" fill="#fff" stroke="#000" stroke-width="1.0"/><line x1="798" y1="0" x2="840" y2="0" stroke="#222" stroke-width="0.7" /><path d="M836.4,-15.5L1040,-15.5A9.61,15.5 0 0 1 1040,15.5L836.4,15.5A9.61,15.5 0 0 1 836.4,-15.5Z" fill-rule="evenodd" fill="#fff" stroke="#000" stroke-width="1.3" /><path d="M839,15.5A9.61,15.5 0 0 1 839,-15.5" fill="none" stroke="#222" stroke-width="0.8" /><path d="M840.94,15.5A9.61,15.5 0 0 1 840.94,-15.5" fill="none" stroke="#222" stroke-width="0.8" /><path d="M842.88,15.5A9.61,15.5 0 0 1 842.88,-15.5" fill="none" stroke="#222" stroke-width="0.8" /><path d="M844.82,15.5A9.61,15.5 0 0 1 844.82,-15.5" fill="none" stroke="#222" stroke-width="0.8" /><path d="M846.76,15.5A9.61,15.5 0 0 1 846.76,-15.5" fill="none" stroke="#222" stroke-width="0.8" /><path d="M848.71,15.5A9.61,15.5 0 0 1 848.71,-15.5" fill="none" stroke="#222" stroke-width="0.8" /><path d="M850.65,15.5A9.61,15.5 0 0 1 850.65,-15.5" fill="none" stroke="#222" stroke-width="0.8" /><path d="M852.59,15.5A9.61,15.5 0 0 1 852.59,-15.5" fill="none" stroke="#222" stroke-width="0.8" /><path d="M854.53,15.5A9.61,15.5 0 0 1 854.53,-15.5" fill="none" stroke="#222" stroke-width="0.8" /><path d="M856.47,15.5A9.61,15.5 0 0 1 856.47,-15.5" fill="none" stroke="#222" stroke-width="0.8" /><path d="M858.41,15.5A9.61,15.5 0 0 1 858.41,-15.5" fill="none" stroke="#222" stroke-width="0.8" /><path d="M860.35,15.5A9.61,15.5 0 0 1 860.35,-15.5" fill="none" stroke="#222" stroke-width="0.8" /><path d="M862.29,15.5A9.61,15.5 0 0 1 862.29,-15.5" fill="none" stroke="#222" stroke-width="0.8" /><path d="M864.24,15.5A9.61,15.5 0 0 1 864.24,-15.5" fill="none" stroke="#222" stroke-width="0.8" /><path d="M866.18,15.5A9.61,15.5 0 0 1 866.18,-15.5" fill="none" stroke="#222" stroke-width="0.8" /><path d="M868.12,15.5A9.61,15.5 0 0 1 868.12,-15.5" fill="none" stroke="#222" stroke-width="0.8" /><path d="M870.06,15.5A9.61,15.5 0 0 1 870.06,-15.5" fill="none" stroke="#222" stroke-width="0.8" /><path d="M872,15.5A9.61,15.5 0 0 1 872,-15.5" fill="none" stroke="#222" stroke-width="0.8" /><path d="M1008,15.5A9.61,15.5 0 0 1 1008,-15.5" fill="none" stroke="#222" stroke-width="0.8" /><path d="M1010.18,15.5A9.61,15.5 0 0 1 1010.18,-15.5" fill="none" stroke="#222" stroke-width="0.8" /><path d="M1012.36,15.5A9.61,15.5 0 0 1 1012.36,-15.5" fill="none" stroke="#222" stroke-width="0.8" /><path d="M1014.55,15.5A9.61,15.5 0 0 1 1014.55,-15.5" fill="none" stroke="#222" stroke-width="0.8" /><path d="M1016.73,15.5A9.61,15.5 0 0 1 1016.73,-15.5" fill="none" stroke="#222" stroke-width="0.8" /><path d="M1018.91,15.5A9.61,15.5 0 0 1 1018.91,-15.5" fill="none" stroke="#222" stroke-width="0.8" /><path d="M1021.09,15.5A9.61,15.5 0 0 1 1021.09,-15.5" fill="none" stroke="#222" stroke-width="0.8" /><path d="M1023.27,15.5A9.61,15.5 0 0 1 1023.27,-15.5" fill="none" stroke="#222" stroke-width="0.8" /><path d="M1025.45,15.5A9.61,15.5 0 0 1 1025.45,-15.5" fill="none" stroke="#222" stroke-width="0.8" /><path d="M1027.64,15.5A9.61,15.5 0 0 1 1027.64,-15.5" fill="none" stroke="#222" stroke-width="0.8" /><path d="M1029.82,15.5A9.61,15.5 0 0 1 1029.82,-15.5" fill="none" stroke="#222" stroke-width="0.8" /><path d="M1032,15.5A9.61,15.5 0 0 1 1032,-15.5" fill="none" stroke="#222" stroke-width="0.8" /><path d="M1032,-17.5L1041,-17.5A10.85,17.5 0 0 1 1041,17.5L1032,17.5A10.85,17.5 0 0 1 1032,-17.5Z" fill-rule="evenodd" fill="#fff" stroke="#000" stroke-width="1.1" /><path d="M1036,17.5A10.85,17.5 0 0 1 1036,-17.5" fill="none" stroke="#222" stroke-width="0.7" /><path d="M1041,-27.5L1050.5,-27.5A17.05,27.5 0 0 1 1050.5,27.5L1041,27.5A17.05,27.5 0 0 1 1041,-27.5Z" fill-rule="evenodd" fill="#fff" stroke="#000" stroke-width="1.3" /><path d="M1045,27.5A17.05,27.5 0 0 1 1045,-27.5" fill="none" stroke="#111" stroke-width="0.8" /><ellipse cx="1050.5" cy="0" rx="15.81" ry="25.5" fill="none" stroke="#333" stroke-width="0.7" /><path d="M1050.5,-21.5L1066,-21.5A13.33,21.5 0 0 1 1066,21.5L1050.5,21.5A13.33,21.5 0 0 1 1050.5,-21.5Z" fill-rule="evenodd" fill="#fff" stroke="#000" stroke-width="1.2" /><path d="M1066,-21.5A13.33,21.5 0 0 1 1066,21.5A13.33,21.5 0 0 1 1066,-21.5ZM1066,-13A8.06,13 0 0 1 1066,13A8.06,13 0 0 1 1066,-13Z" fill-rule="evenodd" fill="#fff" stroke="#000" stroke-width="1.1" /><line x1="1079.02" y1="0" x2="1076.23" y2="0" stroke="#222" stroke-width="0.7" /><line x1="1078.95" y1="2.2" x2="1076.17" y2="1.72" stroke="#222" stroke-width="0.7" /><line x1="1078.74" y1="4.37" x2="1076.01" y2="3.43" stroke="#222" stroke-width="0.7" /><line x1="1078.38" y1="6.49" x2="1075.73" y2="5.1" stroke="#222" stroke-width="0.7" /><line x1="1077.89" y1="8.54" x2="1075.35" y2="6.71" stroke="#222" stroke-width="0.7" /><line x1="1077.28" y1="10.5" x2="1074.86" y2="8.25" stroke="#222" stroke-width="0.7" /><line x1="1076.53" y1="12.34" x2="1074.28" y2="9.7" stroke="#222" stroke-width="0.7" /><line x1="1075.68" y1="14.05" x2="1073.6" y2="11.04" stroke="#222" stroke-width="0.7" /><line x1="1074.71" y1="15.61" x2="1072.85" y2="12.26" stroke="#222" stroke-width="0.7" /><line x1="1073.65" y1="16.99" x2="1072.01" y2="13.35" stroke="#222" stroke-width="0.7" /><line x1="1072.51" y1="18.19" x2="1071.12" y2="14.29" stroke="#222" stroke-width="0.7" /><line x1="1071.3" y1="19.18" x2="1070.16" y2="15.07" stroke="#222" stroke-width="0.7" /><line x1="1070.02" y1="19.97" x2="1069.16" y2="15.69" stroke="#222" stroke-width="0.7" /><line x1="1068.71" y1="20.54" x2="1068.13" y2="16.14" stroke="#222" stroke-width="0.7" /><line x1="1067.36" y1="20.88" x2="1067.07" y2="16.41" stroke="#222" stroke-width="0.7" /><line x1="1066" y1="21" x2="1066" y2="16.5" stroke="#222" stroke-width="0.7" /><line x1="1064.64" y1="20.88" x2="1064.93" y2="16.41" stroke="#222" stroke-width="0.7" /><line x1="1063.29" y1="20.54" x2="1063.87" y2="16.14" stroke="#222" stroke-width="0.7" /><line x1="1061.98" y1="19.97" x2="1062.84" y2="15.69" stroke="#222" stroke-width="0.7" /><line x1="1060.7" y1="19.18" x2="1061.84" y2="15.07" stroke="#222" stroke-width="0.7" /><line x1="1059.49" y1="18.19" x2="1060.88" y2="14.29" stroke="#222" stroke-width="0.7" /><line x1="1058.35" y1="16.99" x2="1059.99" y2="13.35" stroke="#222" stroke-width="0.7" /><line x1="1057.29" y1="15.61" x2="1059.15" y2="12.26" stroke="#222" stroke-width="0.7" /><line x1="1056.32" y1="14.05" x2="1058.4" y2="11.04" stroke="#222" stroke-width="0.7" /><line x1="1055.47" y1="12.34" x2="1057.72" y2="9.7" stroke="#222" stroke-width="0.7" /><line x1="1054.72" y1="10.5" x2="1057.14" y2="8.25" stroke="#222" stroke-width="0.7" /><line x1="1054.11" y1="8.54" x2="1056.65" y2="6.71" stroke="#222" stroke-width="0.7" /><line x1="1053.62" y1="6.49" x2="1056.27" y2="5.1" stroke="#222" stroke-width="0.7" /><line x1="1053.26" y1="4.37" x2="1055.99" y2="3.43" stroke="#222" stroke-width="0.7" /><line x1="1053.05" y1="2.2" x2="1055.83" y2="1.72" stroke="#222" stroke-width="0.7" /><line x1="1052.98" y1="0" x2="1055.77" y2="0" stroke="#222" stroke-width="0.7" /><line x1="1053.05" y1="-2.2" x2="1055.83" y2="-1.72" stroke="#222" stroke-width="0.7" /><line x1="1053.26" y1="-4.37" x2="1055.99" y2="-3.43" stroke="#222" stroke-width="0.7" /><line x1="1053.62" y1="-6.49" x2="1056.27" y2="-5.1" stroke="#222" stroke-width="0.7" /><line x1="1054.11" y1="-8.54" x2="1056.65" y2="-6.71" stroke="#222" stroke-width="0.7" /><line x1="1054.72" y1="-10.5" x2="1057.14" y2="-8.25" stroke="#222" stroke-width="0.7" /><line x1="1055.47" y1="-12.34" x2="1057.72" y2="-9.7" stroke="#222" stroke-width="0.7" /><line x1="1056.32" y1="-14.05" x2="1058.4" y2="-11.04" stroke="#222" stroke-width="0.7" /><line x1="1057.29" y1="-15.61" x2="1059.15" y2="-12.26" stroke="#222" stroke-width="0.7" /><line x1="1058.35" y1="-16.99" x2="1059.99" y2="-13.35" stroke="#222" stroke-width="0.7" /><line x1="1059.49" y1="-18.19" x2="1060.88" y2="-14.29" stroke="#222" stroke-width="0.7" /><line x1="1060.7" y1="-19.18" x2="1061.84" y2="-15.07" stroke="#222" stroke-width="0.7" /><line x1="1061.98" y1="-19.97" x2="1062.84" y2="-15.69" stroke="#222" stroke-width="0.7" /><line x1="1063.29" y1="-20.54" x2="1063.87" y2="-16.14" stroke="#222" stroke-width="0.7" /><line x1="1064.64" y1="-20.88" x2="1064.93" y2="-16.41" stroke="#222" stroke-width="0.7" /><line x1="1066" y1="-21" x2="1066" y2="-16.5" stroke="#222" stroke-width="0.7" /><line x1="1067.36" y1="-20.88" x2="1067.07" y2="-16.41" stroke="#222" stroke-width="0.7" /><line x1="1068.71" y1="-20.54" x2="1068.13" y2="-16.14" stroke="#222" stroke-width="0.7" /><line x1="1070.02" y1="-19.97" x2="1069.16" y2="-15.69" stroke="#222" stroke-width="0.7" /><line x1="1071.3" y1="-19.18" x2="1070.16" y2="-15.07" stroke="#222" stroke-width="0.7" /><line x1="1072.51" y1="-18.19" x2="1071.12" y2="-14.29" stroke="#222" stroke-width="0.7" /><line x1="1073.65" y1="-16.99" x2="1072.01" y2="-13.35" stroke="#222" stroke-width="0.7" /><line x1="1074.71" y1="-15.61" x2="1072.85" y2="-12.26" stroke="#222" stroke-width="0.7" /><line x1="1075.68" y1="-14.05" x2="1073.6" y2="-11.04" stroke="#222" stroke-width="0.7" /><line x1="1076.53" y1="-12.34" x2="1074.28" y2="-9.7" stroke="#222" stroke-width="0.7" /><line x1="1077.28" y1="-10.5" x2="1074.86" y2="-8.25" stroke="#222" stroke-width="0.7" /><line x1="1077.89" y1="-8.54" x2="1075.35" y2="-6.71" stroke="#222" stroke-width="0.7" /><line x1="1078.38" y1="-6.49" x2="1075.73" y2="-5.1" stroke="#222" stroke-width="0.7" /><line x1="1078.74" y1="-4.37" x2="1076.01" y2="-3.43" stroke="#222" stroke-width="0.7" /><line x1="1078.95" y1="-2.2" x2="1076.17" y2="-1.72" stroke="#222" stroke-width="0.7" /><ellipse cx="1066" cy="0" rx="9.92" ry="16" fill="none" stroke="#222" stroke-width="0.7" /><path d="M1064,-12.5L1077,-12.5A7.75,12.5 0 0 1 1077,12.5L1064,12.5A7.75,12.5 0 0 1 1064,-12.5ZM1077,-7.5A4.65,7.5 0 0 1 1077,7.5A4.65,7.5 0 0 1 1077,-7.5Z" fill-rule="evenodd" fill="#fff" stroke="#000" stroke-width="1.3" /><ellipse cx="1077" cy="0" rx="4.65" ry="7.5" fill="#555" stroke="#000" stroke-width="1.2" /><ellipse cx="1075.5" cy="0" rx="3.41" ry="5.5" fill="none" stroke="#ddd" stroke-width="0.6" /></g><polyline points="115.4,0 115.4,50.5" fill="none" stroke="#000" stroke-width="1.65"  stroke-linejoin="miter"/><polyline points="115.5,0.6 826.6,410.5 826.6,500" fill="none" stroke="#000" stroke-width="1.65"  stroke-linejoin="miter"/><polyline points="90.2,68.3 90.2,36.8 137.8,64.8 137.8,90.8" fill="none" stroke="#000" stroke-width="1.65"  stroke-linejoin="miter"/><polyline points="229.9,66.3 229.9,142" fill="none" stroke="#000" stroke-width="1.65"  stroke-linejoin="miter"/><polyline points="471,205 471,176.6" fill="none" stroke="#000" stroke-width="1.65"  stroke-linejoin="miter"/><polyline points="701.3,338.5 701.3,415" fill="none" stroke="#000" stroke-width="1.65"  stroke-linejoin="miter"/><polyline points="21.3,100 21.3,138.8" fill="none" stroke="#000" stroke-width="1.65"  stroke-linejoin="miter"/><polyline points="170.5,182.8 170.5,220" fill="none" stroke="#000" stroke-width="1.65"  stroke-linejoin="miter"/><polyline points="430.3,336.5 430.3,399.5 613.9,505.6 613.9,425.3" fill="none" stroke="#000" stroke-width="1.65"  stroke-linejoin="miter"/><polyline points="502.6,383 502.6,441.3" fill="none" stroke="#000" stroke-width="1.65"  stroke-linejoin="miter"/><polyline points="522,452.5 522,480.8" fill="none" stroke="#000" stroke-width="1.65"  stroke-linejoin="miter"/><polyline points="728,105 728,58.3 976.8,202.2 976.8,233" fill="none" stroke="#000" stroke-width="1.65"  stroke-linejoin="miter"/><polyline points="852.3,101.7 852.3,129.5" fill="none" stroke="#000" stroke-width="1.65"  stroke-linejoin="miter"/><polyline points="899.4,158.6 899.4,199.4" fill="none" stroke="#000" stroke-width="1.65"  stroke-linejoin="miter"/><polyline points="935.4,179.5 935.4,219.6" fill="none" stroke="#000" stroke-width="1.65"  stroke-linejoin="miter"/><circle cx="115.3" cy="20.3" r="11.25" fill="#fff" stroke="#000" stroke-width="1.2"/><text font-family="Liberation Sans, sans-serif" x="115.3" y="27.5" text-anchor="middle" font-size="20.2" font-weight="bold" transform="translate(115.3,0) scale(0.8,1) translate(-115.3,0)">6</text><circle cx="229.9" cy="96.9" r="11.25" fill="#fff" stroke="#000" stroke-width="1.2"/><text font-family="Liberation Sans, sans-serif" x="229.9" y="104.1" text-anchor="middle" font-size="20.2" font-weight="bold" transform="translate(229.9,0) scale(0.8,1) translate(-229.9,0)">5</text><circle cx="471" cy="176.6" r="11.25" fill="#fff" stroke="#000" stroke-width="1.2"/><text font-family="Liberation Sans, sans-serif" x="471" y="183.8" text-anchor="middle" font-size="20.2" font-weight="bold" transform="translate(471,0) scale(0.8,1) translate(-471,0)">2</text><circle cx="701.6" cy="369.1" r="11.25" fill="#fff" stroke="#000" stroke-width="1.2"/><text font-family="Liberation Sans, sans-serif" x="701.6" y="376.3" text-anchor="middle" font-size="20.2" font-weight="bold" transform="translate(701.6,0) scale(0.8,1) translate(-701.6,0)">4</text><circle cx="826.6" cy="445.4" r="11.25" fill="#fff" stroke="#000" stroke-width="1.2"/><text font-family="Liberation Sans, sans-serif" x="826.6" y="452.6" text-anchor="middle" font-size="20.2" font-weight="bold" transform="translate(826.6,0) scale(0.8,1) translate(-826.6,0)">3</text><circle cx="21.25" cy="138.45" r="11.25" fill="#fff" stroke="#000" stroke-width="1.2"/><path d="M19.5,131.15 L19.5,145.55 L17.05,145.55 L17.05,135.45 C16.25,136.25 15.45,136.65 14.55,136.75 L14.55,134.75 C15.75,134.35 16.75,132.95 17.15,131.15 Z" fill="#000"/><path d="M27.45,131.15 L27.45,145.55 L25,145.55 L25,135.45 C24.2,136.25 23.4,136.65 22.5,136.75 L22.5,134.75 C23.7,134.35 24.7,132.95 25.1,131.15 Z" fill="#000"/><circle cx="171.15" cy="220.1" r="11.25" fill="#fff" stroke="#000" stroke-width="1.2"/><path d="M168.2,212.9 L168.2,227.5 L165.75,227.5 L165.75,217.2 C164.95,218 164.15,218.4 163.25,218.5 L163.25,216.5 C164.45,216.1 165.45,214.7 165.85,212.9 Z" fill="#000"/><ellipse cx="174.35" cy="220.25" rx="2.55" ry="6.15" fill="none" stroke="#000" stroke-width="2.3"/><circle cx="430.7" cy="374.5" r="11.25" fill="#fff" stroke="#000" stroke-width="1.2"/><text font-family="Liberation Sans, sans-serif" x="430.7" y="381.7" text-anchor="middle" font-size="20.2" font-weight="bold" transform="translate(430.7,0) scale(0.8,1) translate(-430.7,0)">9</text><circle cx="522" cy="480.8" r="11.25" fill="#fff" stroke="#000" stroke-width="1.2"/><text font-family="Liberation Sans, sans-serif" x="522" y="488" text-anchor="middle" font-size="20.2" font-weight="bold" transform="translate(522,0) scale(0.8,1) translate(-522,0)">8</text><circle cx="613.8" cy="474" r="11.25" fill="#fff" stroke="#000" stroke-width="1.2"/><text font-family="Liberation Sans, sans-serif" x="613.8" y="481.2" text-anchor="middle" font-size="20.2" font-weight="bold" transform="translate(613.8,0) scale(0.8,1) translate(-613.8,0)">7</text><circle cx="852.35" cy="101.55" r="11.25" fill="#fff" stroke="#000" stroke-width="1.2"/><path d="M854.45,93.95 L854.45,108.65 L852,108.65 L852,98.25 C851.2,99.05 850.4,99.45 849.5,99.55 L849.5,97.55 C850.7,97.15 851.7,95.75 852.1,93.95 Z" fill="#000"/><path d="M681,501 L654,501 L654,521.4 L724,521.4 L724,501 L698,501 L689,474 L681,501" fill="#fff" stroke="#333" stroke-width="1.1"/><text font-family="Liberation Sans, sans-serif" x="689" y="516.5" text-anchor="middle" font-size="16.5" font-weight="bold">13 pcs.</text></svg>
</body></html>
